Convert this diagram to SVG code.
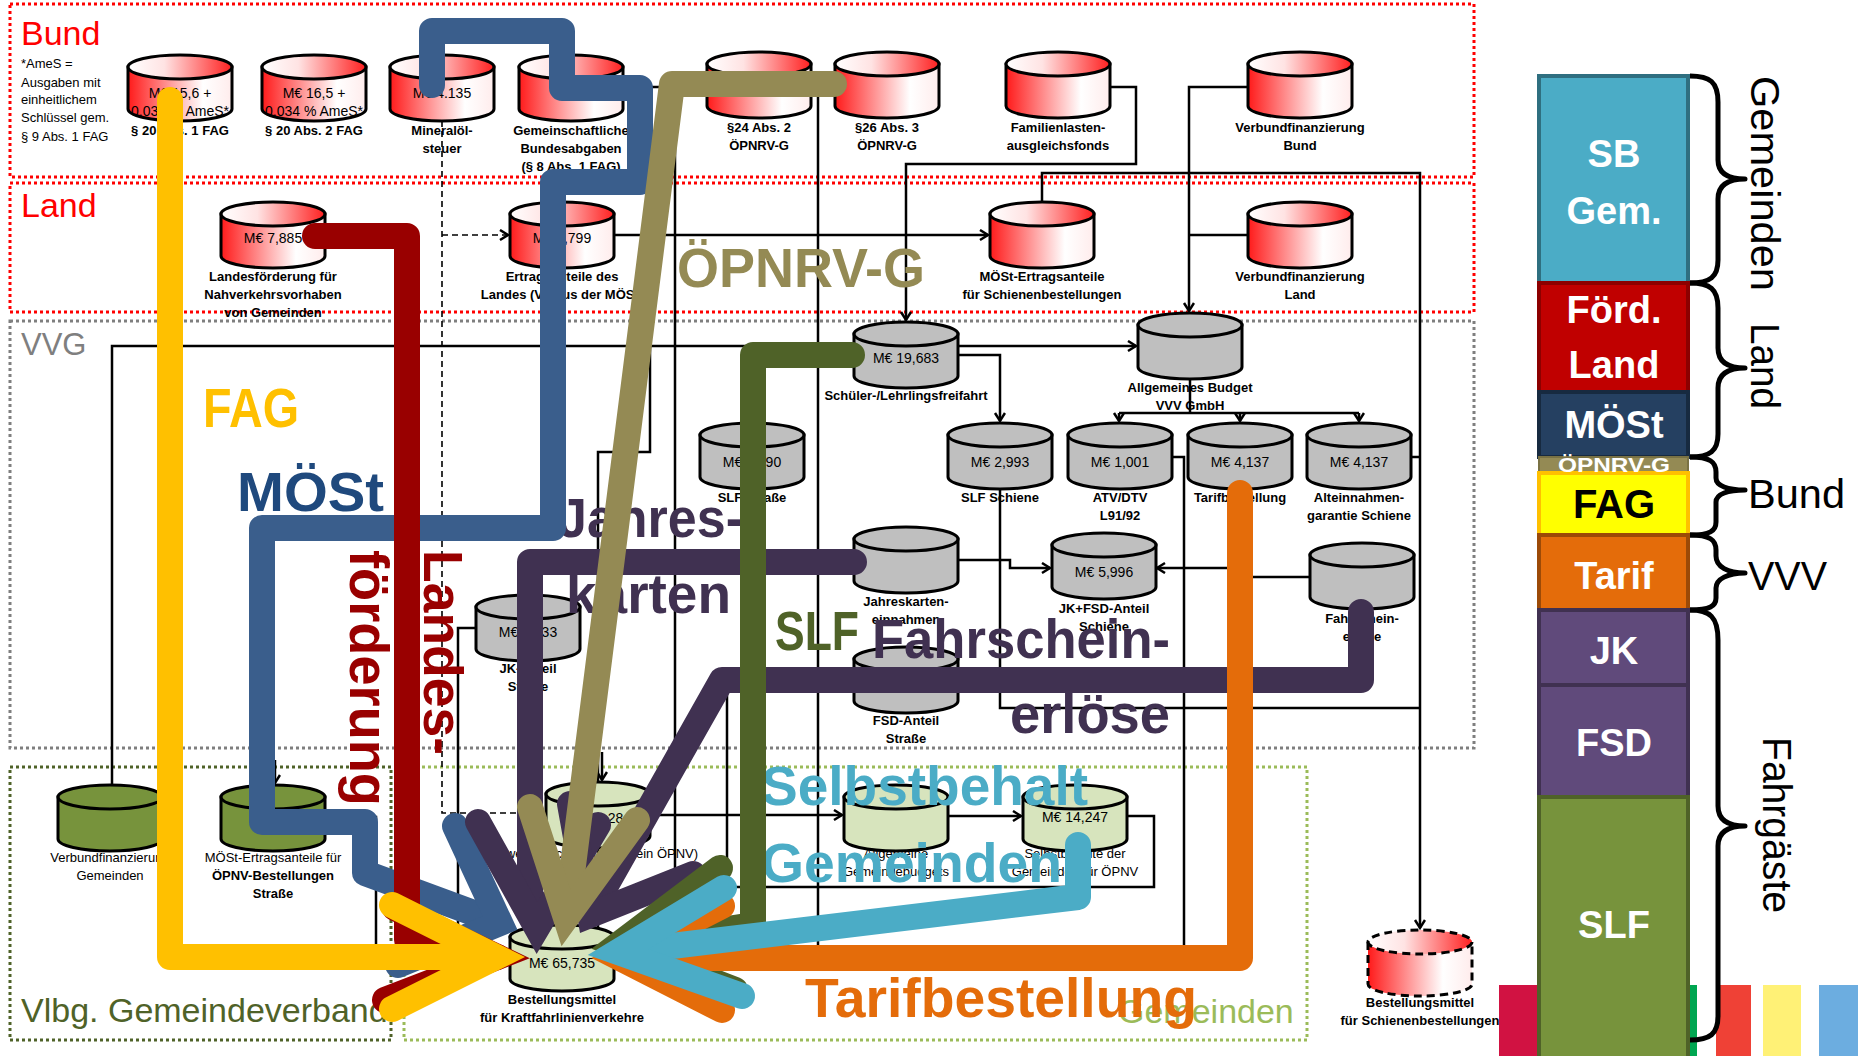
<svg xmlns="http://www.w3.org/2000/svg" width="1858" height="1056" viewBox="0 0 1858 1056">
<style>
.ln{fill:none;stroke:#000;stroke-width:2.5}
.dsh{stroke-dasharray:6 4;stroke-width:1.6}
.reg{fill:none;stroke-width:3;stroke-dasharray:3 3}
.t{font-family:"Liberation Sans",Arial,sans-serif;font-size:13px;text-anchor:middle;fill:#000}
.b{font-weight:bold}
.v{font-size:14px}
.wt{fill:#fff}
.sm{font-family:"Liberation Sans",Arial,sans-serif;font-size:13px;fill:#000}
.rg{font-family:"Liberation Sans",Arial,sans-serif;font-size:34px}
.big{font-family:"Liberation Sans",Arial,sans-serif;font-weight:bold;font-size:56px}
.fl{fill:none;stroke-width:26;stroke-linecap:round;stroke-linejoin:round}
.ch{fill:none;stroke-width:26;stroke-linecap:round;stroke-linejoin:miter;stroke-miterlimit:10}
.pn{font-family:"Liberation Sans",Arial,sans-serif;font-weight:bold;font-size:38px;text-anchor:middle;fill:#fff}
.rl{font-family:"Liberation Sans",Arial,sans-serif;font-size:41px;fill:#000}
.br{fill:none;stroke:#000;stroke-width:5;stroke-linejoin:round}
</style>
<defs>
<linearGradient id="gRB" x1="0" y1="0" x2="1" y2="0"><stop offset="0" stop-color="#ff1a1a"/><stop offset="0.72" stop-color="#ffffff"/><stop offset="1" stop-color="#ffecec"/></linearGradient>
<linearGradient id="gRT" x1="0" y1="0" x2="1" y2="0"><stop offset="0" stop-color="#ffffff"/><stop offset="0.35" stop-color="#ffe3e3"/><stop offset="1" stop-color="#ff2020"/></linearGradient>
<symbol id="cR" viewBox="0 0 104 66" overflow="visible"><path d="M0,12 V54 A52,12 0 0 0 104,54 V12 Z" fill="url(#gRB)" stroke="#000" stroke-width="3"/><ellipse cx="52" cy="12" rx="52" ry="12" fill="url(#gRT)" stroke="#000" stroke-width="3"/></symbol>
<symbol id="cRD" viewBox="0 0 104 66" overflow="visible"><path d="M0,12 V54 A52,12 0 0 0 104,54 V12 Z" fill="url(#gRB)" stroke="#000" stroke-width="3" stroke-dasharray="8 5"/><ellipse cx="52" cy="12" rx="52" ry="12" fill="url(#gRT)" stroke="#000" stroke-width="3" stroke-dasharray="8 5"/></symbol>
<symbol id="cG" viewBox="0 0 104 66" overflow="visible"><path d="M0,12 V54 A52,12 0 0 0 104,54 V12 Z" fill="#bfbfbf" stroke="#000" stroke-width="3"/><ellipse cx="52" cy="12" rx="52" ry="12" fill="#bfbfbf" stroke="#000" stroke-width="3"/></symbol>
<symbol id="cV" viewBox="0 0 104 66" overflow="visible"><path d="M0,12 V54 A52,12 0 0 0 104,54 V12 Z" fill="#77933c" stroke="#000" stroke-width="3"/><ellipse cx="52" cy="12" rx="52" ry="12" fill="#77933c" stroke="#000" stroke-width="3"/></symbol>
<symbol id="cL" viewBox="0 0 104 66" overflow="visible"><path d="M0,12 V54 A52,12 0 0 0 104,54 V12 Z" fill="#d7e4bd" stroke="#000" stroke-width="3"/><ellipse cx="52" cy="12" rx="52" ry="12" fill="#d7e4bd" stroke="#000" stroke-width="3"/></symbol>
<marker id="ar" markerWidth="14" markerHeight="14" refX="9" refY="6" orient="auto" markerUnits="userSpaceOnUse"><path d="M1,1 L9,6 L1,11" fill="none" stroke="#000" stroke-width="2.5"/></marker>
</defs>
<rect width="1858" height="1056" fill="#fff"/>

<g id="regions">
<rect class="reg" x="10" y="4" width="1464" height="173" stroke="#ff0000"/>
<rect class="reg" x="10" y="183" width="1464" height="129" stroke="#ff0000"/>
<rect class="reg" x="10" y="321" width="1464" height="427" stroke="#7f7f7f"/>
<rect class="reg" x="10" y="767" width="381" height="273" stroke="#4f6228"/>
<rect class="reg" x="404" y="767" width="903" height="273" stroke="#9bbb59"/>
<text class="rg" x="21" y="45" fill="#ff0000">Bund</text>
<text class="rg" x="21" y="217" fill="#ff0000">Land</text>
<text class="rg" x="21" y="355" fill="#7f7f7f" style="font-size:31px">VVG</text>
<text class="rg" x="21" y="1022" fill="#4f6228">Vlbg. Gemeindeverband</text>
<text class="rg" x="1118" y="1023" fill="#9bbb59">Gemeinden</text>
<text class="sm" x="21" y="68">*AmeS =</text>
<text class="sm" x="21" y="87">Ausgaben mit</text>
<text class="sm" x="21" y="104">einheitlichem</text>
<text class="sm" x="21" y="122">Schlüssel gem.</text>
<text class="sm" x="21" y="141">§ 9 Abs. 1 FAG</text>
</g>

<g id="connectors">
<path class="ln" d="M112,785 V346 H1136" marker-end="url(#ar)"/>
<path class="ln" d="M957,355 H1000 V421" marker-end="url(#ar)"/>
<path class="ln" d="M1110,87 H1136 V164 H906 V320" marker-end="url(#ar)"/>
<path class="ln" d="M1248,87 H1189 V311" marker-end="url(#ar)"/>
<path class="ln" d="M1248,235 H1189"/>
<path class="ln" d="M1190,379 V413 M1119,413 H1359"/>
<path class="ln" d="M1119,413 V421" marker-end="url(#ar)"/>
<path class="ln" d="M1240,413 V421" marker-end="url(#ar)"/>
<path class="ln" d="M1359,413 V421" marker-end="url(#ar)"/>
<path class="ln" d="M1042,202 V173 H1420 V928" marker-end="url(#ar)"/>
<path class="ln" d="M1000,489 V708 H1420"/>
<path class="ln" d="M1171,457 H1184 V950"/>
<path class="ln" d="M1411,457 H1420"/>
<path class="ln" d="M957,560 H1010 V568 H1050" marker-end="url(#ar)"/>
<path class="ln" d="M1310,577 H1240 V568 H1157" marker-end="url(#ar)"/>
<path class="ln" d="M614,235 H988" marker-end="url(#ar)"/>
<path class="ln dsh" d="M442,121 V813 H544"/>
<path class="ln dsh" d="M442,235 H508" marker-end="url(#ar)"/>
<path class="ln" d="M811,87 H835 M818,87 V950"/>
<path class="ln" d="M623,87 H675 V950"/>
<path class="ln" d="M650,235 V452 H598 V945"/>
<path class="ln" d="M476,628 H458 V945"/>
<path class="ln" d="M325,817 H376 V945"/>
<path class="ln" d="M650,815 H842" marker-end="url(#ar)"/>
<path class="ln" d="M948,816 H1021" marker-end="url(#ar)"/>
<path class="ln" d="M1127,816 H1154 V887 H675"/>
<path class="ln" d="M727,693 V950"/>
<path class="ln" d="M562,885 V923" marker-end="url(#ar)"/>
<path class="ln" d="M470,958 H508" marker-end="url(#ar)"/>
<path class="ln" d="M275,760 V783" marker-end="url(#ar)"/>
<path class="ln" d="M602,752 V780" marker-end="url(#ar)"/>
</g>

<g id="n-fag1"><use href="#cR" x="128" y="55" width="104" height="66"/><text class="t v" x="180" y="98">M€ 15,6 +</text><text class="t v" x="180" y="116">0,034 % AmeS*</text><text class="t b" x="180" y="135">§ 20 Abs. 1 FAG</text></g>
<g id="n-fag2"><use href="#cR" x="262" y="55" width="104" height="66"/><text class="t v" x="314" y="98">M€ 16,5 +</text><text class="t v" x="314" y="116">0,034 % AmeS*</text><text class="t b" x="314" y="135">§ 20 Abs. 2 FAG</text></g>
<g id="n-moest"><use href="#cR" x="390" y="55" width="104" height="66"/><text class="t v" x="442" y="98">M€ 4.135</text><text class="t b" x="442" y="135">Mineralöl-</text><text class="t b" x="442" y="153">steuer</text></g>
<g id="n-gba"><use href="#cR" x="519" y="55" width="104" height="66"/><text class="t b" x="571" y="135">Gemeinschaftliche</text><text class="t b" x="571" y="153">Bundesabgaben</text><text class="t b" x="571" y="171">(§ 8 Abs. 1 FAG)</text></g>
<g id="n-p24"><use href="#cR" x="707" y="52" width="104" height="66"/><text class="t b" x="759" y="132">§24 Abs. 2</text><text class="t b" x="759" y="150">ÖPNRV-G</text></g>
<g id="n-p26"><use href="#cR" x="835" y="52" width="104" height="66"/><text class="t b" x="887" y="132">§26 Abs. 3</text><text class="t b" x="887" y="150">ÖPNRV-G</text></g>
<g id="n-flaf"><use href="#cR" x="1006" y="52" width="104" height="66"/><text class="t b" x="1058" y="132">Familienlasten-</text><text class="t b" x="1058" y="150">ausgleichsfonds</text></g>
<g id="n-vfb"><use href="#cR" x="1248" y="52" width="104" height="66"/><text class="t b" x="1300" y="132">Verbundfinanzierung</text><text class="t b" x="1300" y="150">Bund</text></g>

<g id="n-lf"><use href="#cR" x="221" y="202" width="104" height="66"/><text class="t v" x="273" y="243">M€ 7,885</text><text class="t b" x="273" y="281">Landesförderung für</text><text class="t b" x="273" y="299">Nahverkehrsvorhaben</text><text class="t b" x="273" y="317">von Gemeinden</text></g>
<g id="n-ea"><use href="#cR" x="510" y="202" width="104" height="66"/><text class="t v" x="562" y="243">M€ 7,799</text><text class="t b" x="562" y="281">Ertragsanteile des</text><text class="t b" x="562" y="299">Landes (Voraus der MÖSt)</text></g>
<g id="n-mes"><use href="#cR" x="990" y="202" width="104" height="66"/><text class="t b" x="1042" y="281">MÖSt-Ertragsanteile</text><text class="t b" x="1042" y="299">für Schienenbestellungen</text></g>
<g id="n-vfl"><use href="#cR" x="1248" y="202" width="104" height="66"/><text class="t b" x="1300" y="281">Verbundfinanzierung</text><text class="t b" x="1300" y="299">Land</text></g>

<g id="n-slf"><use href="#cG" x="854" y="322" width="104" height="66"/><text class="t v" x="906" y="363">M€ 19,683</text><text class="t b" x="906" y="400">Schüler-/Lehrlingsfreifahrt</text></g>
<g id="n-avb"><use href="#cG" x="1138" y="313" width="104" height="66"/><text class="t b" x="1190" y="392">Allgemeines Budget</text><text class="t b" x="1190" y="410">VVV GmbH</text></g>
<g id="n-slfstr"><use href="#cG" x="700" y="423" width="104" height="66"/><text class="t v" x="752" y="467">M€ 6,690</text><text class="t b" x="752" y="502">SLF Straße</text></g>
<g id="n-slfsch"><use href="#cG" x="948" y="423" width="104" height="66"/><text class="t v" x="1000" y="467">M€ 2,993</text><text class="t b" x="1000" y="502">SLF Schiene</text></g>
<g id="n-atv"><use href="#cG" x="1068" y="423" width="104" height="66"/><text class="t v" x="1120" y="467">M€ 1,001</text><text class="t b" x="1120" y="502">ATV/DTV</text><text class="t b" x="1120" y="520">L91/92</text></g>
<g id="n-tarif"><use href="#cG" x="1188" y="423" width="104" height="66"/><text class="t v" x="1240" y="467">M€ 4,137</text><text class="t b" x="1240" y="502">Tarifbestellung</text></g>
<g id="n-alt"><use href="#cG" x="1307" y="423" width="104" height="66"/><text class="t v" x="1359" y="467">M€ 4,137</text><text class="t b" x="1359" y="502">Alteinnahmen-</text><text class="t b" x="1359" y="520">garantie Schiene</text></g>
<g id="n-jk"><use href="#cG" x="854" y="527" width="104" height="66"/><text class="t b" x="906" y="606">Jahreskarten-</text><text class="t b" x="906" y="624">einnahmen</text></g>
<g id="n-jkfsd"><use href="#cG" x="1052" y="533" width="104" height="66"/><text class="t v" x="1104" y="577">M€ 5,996</text><text class="t b" x="1104" y="613">JK+FSD-Anteil</text><text class="t b" x="1104" y="631">Schiene</text></g>
<g id="n-fse"><use href="#cG" x="1310" y="543" width="104" height="66"/><text class="t b" x="1362" y="623">Fahrschein-</text><text class="t b" x="1362" y="641">erlöse</text></g>
<g id="n-fsd"><use href="#cG" x="854" y="647" width="104" height="66"/><text class="t b" x="906" y="725">FSD-Anteil</text><text class="t b" x="906" y="743">Straße</text></g>
<g id="n-jks"><use href="#cG" x="476" y="595" width="104" height="66"/><text class="t v" x="528" y="637">M€ 1,333</text><text class="t b" x="528" y="673">JK-Anteil</text><text class="t b" x="528" y="691">Straße</text></g>

<g id="n-vfg"><use href="#cV" x="58" y="785" width="104" height="66"/><text class="t" x="110" y="862">Verbundfinanzierung</text><text class="t" x="110" y="880">Gemeinden</text></g>
<g id="n-mesv"><use href="#cV" x="221" y="785" width="104" height="66"/><text class="t v wt" x="273" y="826">M€ 2,2</text><text class="t" x="273" y="862">MÖSt-Ertragsanteile für</text><text class="t b" x="273" y="880">ÖPNV-Bestellungen</text><text class="t b" x="273" y="898">Straße</text></g>

<g id="n-g1"><use href="#cL" x="546" y="782" width="104" height="66"/><text class="t v" x="598" y="823">M€ 3,28</text><text class="t" x="598" y="858">Zweckzuschuss (allgemein ÖPNV)</text></g>
<g id="n-agb"><use href="#cL" x="844" y="785" width="104" height="66"/><text class="t" x="896" y="858">Allgemeine</text><text class="t" x="896" y="876">Gemeindebudgets</text></g>
<g id="n-sbg"><use href="#cL" x="1023" y="785" width="104" height="66"/><text class="t v" x="1075" y="822">M€ 14,247</text><text class="t" x="1075" y="858">Selbstbehalte der</text><text class="t" x="1075" y="876">Gemeinden für ÖPNV</text></g>
<g id="n-bmk"><use href="#cL" x="510" y="925" width="104" height="66"/><text class="t v" x="562" y="968">M€ 65,735</text><text class="t b" x="562" y="1004">Bestellungsmittel</text><text class="t b" x="562" y="1022">für Kraftfahrlinienverkehre</text></g>
<g id="n-bms"><use href="#cRD" x="1368" y="930" width="104" height="66"/><text class="t b" x="1420" y="1007">Bestellungsmittel</text><text class="t b" x="1420" y="1025">für Schienenbestellungen</text></g>

<g id="flow-labels">
<text class="big" x="203" y="427" textLength="96" lengthAdjust="spacingAndGlyphs" fill="#ffc000">FAG</text>
<text class="big" x="237" y="511" textLength="147" lengthAdjust="spacingAndGlyphs" fill="#1f497d">MÖSt</text>
<text class="big" transform="translate(424,550) rotate(90)" textLength="205" lengthAdjust="spacingAndGlyphs" fill="#990000">Landes-</text>
<text class="big" transform="translate(350,550) rotate(90)" textLength="256" lengthAdjust="spacingAndGlyphs" fill="#990000">förderung</text>
<text class="big" x="558" y="537" textLength="185" lengthAdjust="spacingAndGlyphs" fill="#403151">Jahres-</text>
<text class="big" x="566" y="613" textLength="165" lengthAdjust="spacingAndGlyphs" fill="#403151">karten</text>
<text class="big" x="677" y="287" textLength="248" lengthAdjust="spacingAndGlyphs" fill="#948a54">ÖPNRV-G</text>
<text class="big" x="775" y="650" textLength="84" lengthAdjust="spacingAndGlyphs" fill="#4f6228">SLF</text>
<text class="big" x="872" y="658" textLength="298" lengthAdjust="spacingAndGlyphs" fill="#403151">Fahrschein-</text>
<text class="big" x="1010" y="733" textLength="160" lengthAdjust="spacingAndGlyphs" fill="#403151">erlöse</text>
<text class="big" x="761" y="805" textLength="327" lengthAdjust="spacingAndGlyphs" fill="#4bacc6">Selbstbehalt</text>
<text class="big" x="761" y="882" textLength="301" lengthAdjust="spacingAndGlyphs" fill="#4bacc6">Gemeinden</text>
<text class="big" x="805" y="1017" textLength="392" lengthAdjust="spacingAndGlyphs" fill="#e46c0a">Tarifbestellung</text>
</g>

<g id="flows">
<path class="fl" stroke="#3a5e8c" d="M432,85 V31 H562 V88 H640 V182 H553 V528 H262 V822 H365 V873 L498,922"/>
<path class="ch" stroke="#3a5e8c" d="M455,826 L500,923 L398,965"/>
<path class="fl" stroke="#990000" d="M315,236 H407 V940 L497,957"/>
<path class="ch" stroke="#990000" d="M395,908 L497,957 L385,1000"/>
<path class="fl" stroke="#ffc000" d="M170,100 V957 H492"/>
<path class="ch" stroke="#ffc000" d="M392,905 L496,957 L392,1009"/>
<path class="fl" stroke="#403151" d="M854,562 H530 V910"/>
<path class="ch" stroke="#403151" d="M478,822 L537,928 L598,825"/>
<path class="fl" stroke="#403151" d="M1361,612 V680 H722 L592,910"/>
<path class="ch" stroke="#403151" d="M570,804 L590,915 L693,874"/>
<path class="fl" stroke="#948a54" d="M834,84 H672 L568,905"/>
<path class="ch" stroke="#948a54" d="M530,807 L566,918 L637,820"/>
<path class="fl" stroke="#4f6228" d="M852,355 H753 V925 L625,945"/>
<path class="ch" stroke="#4f6228" d="M720,868 L618,945 L735,990"/>
<path class="fl" stroke="#e46c0a" d="M1240,493 V958 H630"/>
<path class="ch" stroke="#e46c0a" d="M722,906 L620,958 L722,1010"/>
<path class="fl" stroke="#4bacc6" d="M1078,845 V897 L622,952"/>
<path class="ch" stroke="#4bacc6" d="M724,888 L618,952 L742,996"/>
</g>

<g id="legend">
<rect x="1499" y="985" width="70" height="71" fill="#d11242"/>
<rect x="1680" y="985" width="17" height="71" fill="#00a651"/>
<rect x="1716" y="985" width="35" height="71" fill="#ef4136"/>
<rect x="1763" y="985" width="38" height="71" fill="#fff176"/>
<rect x="1819" y="985" width="39" height="71" fill="#6cade0"/>
<rect x="1539" y="76" width="149" height="207" fill="#4bacc6" stroke="#2f6f80" stroke-width="4"/>
<rect x="1539" y="283" width="149" height="109" fill="#c00000" stroke="#8c0000" stroke-width="4"/>
<rect x="1539" y="392" width="149" height="65" fill="#254061" stroke="#172a40" stroke-width="4"/>
<rect x="1539" y="457" width="149" height="16" fill="#948a54" stroke="#7a7244" stroke-width="2"/>
<rect x="1539" y="473" width="149" height="62" fill="#ffff00" stroke="#ffc000" stroke-width="4"/>
<rect x="1539" y="535" width="149" height="75" fill="#e46c0a" stroke="#9c4a07" stroke-width="4"/>
<rect x="1539" y="610" width="149" height="75" fill="#604a7b" stroke="#403151" stroke-width="4"/>
<rect x="1539" y="685" width="149" height="112" fill="#604a7b" stroke="#403151" stroke-width="4"/>
<rect x="1539" y="797" width="149" height="275" fill="#77933c" stroke="#4f6228" stroke-width="4"/>
<text class="pn" x="1614" y="167">SB</text>
<text class="pn" x="1614" y="224">Gem.</text>
<text class="pn" x="1614" y="323">Förd.</text>
<text class="pn" x="1614" y="378">Land</text>
<text class="pn" x="1614" y="438">MÖSt</text>
<text class="pn" x="1614" y="472" style="font-size:21px" textLength="112" lengthAdjust="spacingAndGlyphs">ÖPNRV-G</text>
<text class="pn" x="1614" y="518" style="fill:#000;font-size:40px">FAG</text>
<text class="pn" x="1614" y="589">Tarif</text>
<text class="pn" x="1614" y="664">JK</text>
<text class="pn" x="1614" y="756">FSD</text>
<text class="pn" x="1614" y="938">SLF</text>
<path class="br" d="M1690,76 C1710,76 1718,82 1718,102 V160 C1718,173 1728,179 1745,179 C1728,179 1718,185 1718,199 V260 C1718,277 1710,283 1690,283"/>
<path class="br" d="M1690,283 C1710,283 1718,289 1718,308 V348 C1718,362 1728,368 1745,368 C1728,368 1718,374 1718,388 V434 C1718,451 1710,457 1690,457"/>
<path class="br" d="M1690,457 C1710,457 1716,462 1716,472 V478 C1716,486 1728,490 1745,490 C1728,490 1716,494 1716,502 V522 C1716,531 1710,535 1690,535"/>
<path class="br" d="M1690,535 C1710,535 1716,540 1716,550 V556 C1716,567 1728,573 1745,573 C1728,573 1716,579 1716,588 V598 C1716,606 1710,610 1690,610"/>
<path class="br" d="M1690,610 C1710,610 1718,617 1718,640 V806 C1718,820 1728,826 1745,826 C1728,826 1718,832 1718,846 V1016 C1718,1034 1710,1040 1690,1040"/>
<text class="rl" transform="translate(1751,76) rotate(90)" textLength="215" lengthAdjust="spacingAndGlyphs">Gemeinden</text>
<text class="rl" transform="translate(1751,323) rotate(90)" textLength="86" lengthAdjust="spacingAndGlyphs">Land</text>
<text class="rl" x="1748" y="508" textLength="97" lengthAdjust="spacingAndGlyphs">Bund</text>
<text class="rl" x="1748" y="590" textLength="79" lengthAdjust="spacingAndGlyphs">VVV</text>
<text class="rl" transform="translate(1763,737) rotate(90)" textLength="176" lengthAdjust="spacingAndGlyphs">Fahrgäste</text>
</g>
</svg>
